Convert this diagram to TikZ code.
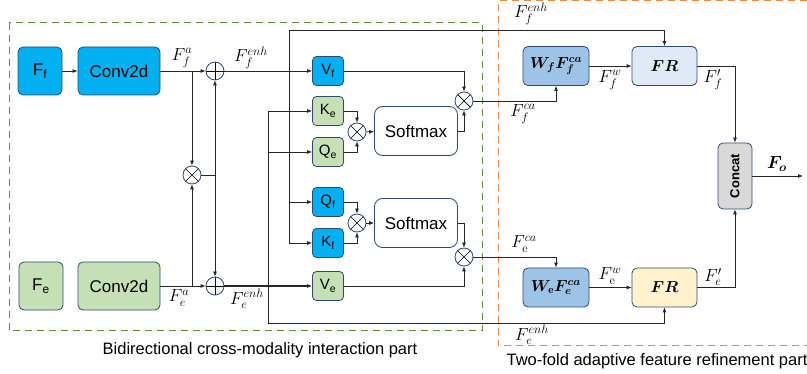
\RequirePackage{fix-cm}
\documentclass[tikz,border=0pt]{standalone}
\usepackage{amsmath}
\usepackage{bm}
\usepackage{fontspec}
\setsansfont{Liberation Sans}
\usetikzlibrary{arrows.meta}
\definecolor{cblue}{HTML}{00B0F0}
\definecolor{cgreen}{HTML}{C5E0B4}
\definecolor{bordc}{HTML}{2E4A72}
\definecolor{cwf}{HTML}{9DC3E6}
\definecolor{cfr}{HTML}{DEEBF7}
\definecolor{cfre}{HTML}{FFF2CC}
\definecolor{ccat}{HTML}{D9D9D9}
\definecolor{dgreen}{HTML}{5F8F3E}
\definecolor{dorange}{HTML}{F0883A}
\begin{document}
\begin{tikzpicture}[x=1pt,y=-1pt,
  box/.style={draw=bordc, line width=0.8pt, rounded corners=5pt, font=\sffamily\fontsize{17}{19}\selectfont, inner sep=0pt},
  sbox/.style={box, minimum width=31pt, minimum height=29pt, font=\sffamily\fontsize{15}{17}\selectfont, rounded corners=4pt},
  opc/.style={circle, draw=bordc, fill=white, line width=0.8pt, minimum size=18pt, inner sep=0pt},
  oplus/.style={opc, path picture={\draw[black,line width=0.7pt] (path picture bounding box.west) -- (path picture bounding box.east) (path picture bounding box.north) -- (path picture bounding box.south);}},
  otimes/.style={opc, path picture={\draw[black,line width=0.7pt] (path picture bounding box.north west) -- (path picture bounding box.south east) (path picture bounding box.north east) -- (path picture bounding box.south west);}},
  conn/.style={line width=0.8pt, draw=black!85},
  arr/.style={conn, -{Latex[length=5pt,width=4pt]}},
  lab/.style={font=\fontsize{17.5}{19}\selectfont, inner sep=0pt},
  captext/.style={font=\sffamily\fontsize{16.5}{19}\selectfont, inner sep=0pt},
  dashbox/.style={line width=1pt, dash pattern=on 7pt off 5pt}
]
\useasboundingbox (0,0) rectangle (807,374);
% group frames
\draw[dashbox, draw=dgreen] (9,23) rectangle (482,331);
\draw[dashbox, draw=dorange] (807,1) -- (498,1) -- (498,346) -- (807,346);
\node[captext] (cap1) at (260,350) {Bidirectional cross-modality interaction part};
\node[captext] (cap2) at (657,361) {Two-fold adaptive feature refinement part};

% input branch
\node[box, fill=cblue, minimum width=44pt, minimum height=48pt] (Ff) at (40,71) {F$_{\textsf{f}}$};
\node[box, fill=cblue, minimum width=82pt, minimum height=48pt] (conv1) at (119,71) {Conv2d};
\node[box, fill=cgreen, minimum width=44pt, minimum height=48pt] (Fe) at (41,286) {F$_{\textsf{e}}$};
\node[box, fill=cgreen, minimum width=82pt, minimum height=48pt] (conv2) at (119,286) {Conv2d};
\node[oplus] (p1) at (215,71) {};
\node[oplus] (p2) at (215,286) {};
\node[otimes] (t0) at (192,175) {};

% attention blocks
\node[sbox, fill=cblue] (Vf) at (328,71) {V$_{\textsf{f}}$};
\node[sbox, fill=cgreen] (Ke) at (328,111) {K$_{\textsf{e}}$};
\node[sbox, fill=cgreen] (Qe) at (328,152) {Q$_{\textsf{e}}$};
\node[sbox, fill=cblue] (Qf) at (328,202) {Q$_{\textsf{f}}$};
\node[sbox, fill=cblue] (Kf) at (328,243) {K$_{\textsf{f}}$};
\node[sbox, fill=cgreen] (Ve) at (328,286) {V$_{\textsf{e}}$};
\node[otimes] (tA) at (357,132) {};
\node[otimes] (tB) at (357,223) {};
\node[box, fill=white, minimum width=83pt, minimum height=49pt, rounded corners=8pt] (sm1) at (416,131) {Softmax};
\node[box, fill=white, minimum width=83pt, minimum height=49pt, rounded corners=8pt] (sm2) at (416,223) {Softmax};
\node[otimes] (tC) at (464,101) {};
\node[otimes] (tD) at (464,257) {};

% refinement part
\node[box, fill=cwf, minimum width=66pt, minimum height=39pt, font=\fontsize{16}{18}\selectfont] (wf) at (556,66) {$\bm{W}_{\bm{f}}\bm{F}_{\bm{f}}^{\bm{ca}}$};
\node[box, fill=cfr, minimum width=65pt, minimum height=39pt, font=\fontsize{16}{18}\selectfont] (fr1) at (664.5,66) {$\bm{FR}$};
\node[box, fill=cwf, minimum width=66pt, minimum height=39pt, font=\fontsize{16}{18}\selectfont] (we) at (556,287.5) {$\bm{W}_{\mathbf{e}}\bm{F}_{\bm{e}}^{\bm{ca}}$};
\node[box, fill=cfre, minimum width=65pt, minimum height=39pt, font=\fontsize{16}{18}\selectfont] (fr2) at (664.5,287.5) {$\bm{FR}$};
\node[box, fill=ccat, minimum width=34pt, minimum height=66pt] (cat) at (735,176) {};
\node[rotate=90, font=\sffamily\bfseries\fontsize{13}{15}\selectfont, inner sep=0pt] (cattext) at (cat) {Concat};
\coordinate (out) at (803,176);

% connectors: input branch
\draw[arr] (Ff) -- (conv1);
\draw[arr] (conv1) -- (p1);
\draw[arr] (conv2) -- (p2);
\draw[arr] (192,71) -- (t0);
\draw[arr] (192,286) -- (t0);
\draw[conn] (t0) -- (215,175);
\draw[arr] (215,175) -- (p1);
\draw[arr] (215,175) -- (p2);
\draw[arr] (p1) -- (Vf);
\draw[arr, line width=1.1pt] (p2) -- (Ve);

% feeds to K/Q and FR
\draw[conn] (268,111) -- (268,323) -- (664.5,323);
\draw[arr] (664.5,323) -- (fr2);
\draw[arr] (268,111) -- (Ke);
\draw[arr] (268,152) -- (Qe);
\draw[conn] (289,243) -- (289,30) -- (664.5,30);
\draw[arr] (664.5,30) -- (fr1);
\draw[arr] (289,202) -- (Qf);
\draw[arr] (289,243) -- (Kf);

% attention
\draw[arr] (Ke) -| (tA);
\draw[arr] (Qe) -| (tA);
\draw[arr] (tA) -- (sm1);
\draw[arr] (Qf) -| (tB);
\draw[arr] (Kf) -| (tB);
\draw[arr] (tB) -- (sm2);
\draw[arr] (Vf) -| (tC);
\draw[arr] (sm1) -| (tC);
\draw[arr] (sm2.east) -| (tD);
\draw[arr] (Ve) -| (tD);

% refinement
\draw[arr] (tC) -| (wf);
\draw[arr] (tD) -| (we);
\draw[arr] (wf) -- (fr1);
\draw[arr] (we) -- (fr2);
\draw[arr] (fr1) -| (cat);
\draw[arr] (fr2) -| (cat);
\draw[arr] (cat) -- (out);

% labels
\node[lab] (lFfa) at (182,58) {$F_f^{a}$};
\node[lab] (lFfenh) at (251,58) {$F_f^{enh}$};
\node[lab] (lFea) at (179,298) {$F_e^{a}$};
\node[lab] (lFeenh) at (247,299) {$F_e^{enh}$};
\node[lab] (lFfenh2) at (531,14) {$F_f^{enh}$};
\node[lab] (lFfca) at (523,114) {$F_f^{ca}$};
\node[lab] (lFfw) at (610,80) {$F_f^{w}$};
\node[lab] (lFfp) at (713,80) {$F_f'$};
\node[lab] (lFo) at (777,164) {$\bm{F}_{\bm{o}}$};
\node[lab] (lFeca) at (524,244) {$F_{\mathrm{e}}^{ca}$};
\node[lab] (lFew) at (610,276) {$F_{\mathrm{e}}^{w}$};
\node[lab] (lFep) at (713,277) {$F_e'$};
\node[lab] (lFeenh2) at (532,335) {$F_e^{enh}$};
\end{tikzpicture}
\end{document}
